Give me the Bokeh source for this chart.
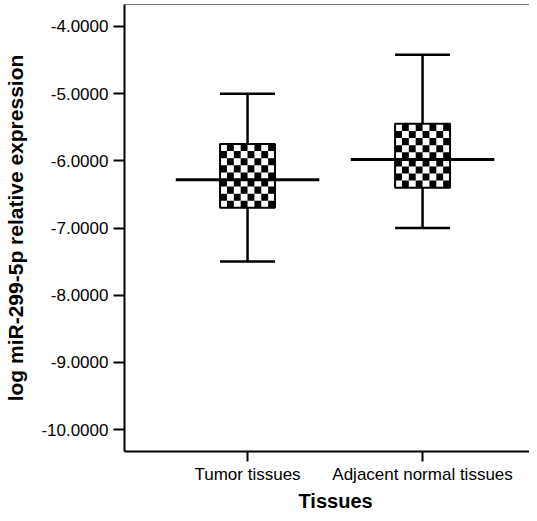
import numpy as np
from bokeh.plotting import figure
from bokeh.models import FixedTicker, Span, Range1d, Title
from bokeh.embed import file_html
from bokeh.resources import INLINE

# ---- data ----
categories = ["Tumor tissues", "Adjacent normal tissues"]
positions = [1, 2]
whisker_low = [-7.5, -7.0]
q1 = [-6.70, -6.40]
median = [-6.28, -5.98]
q3 = [-5.75, -5.45]
whisker_high = [-5.0, -4.42]
y_ticks = [-4, -5, -6, -7, -8, -9, -10]

W, H = 529, 513
Y0, Y1 = -10.327, -3.673
p = figure(width=W, height=H, output_backend="svg", toolbar_location=None,
           x_range=Range1d(0.297, 2.611), y_range=Range1d(Y0, Y1),
           min_border_left=124, min_border_right=0, min_border_top=4,
           min_border_bottom=62)
p.grid.visible = False
p.outline_line_color = None
p.background_fill_color = "white"

box_w = 0.314
med_w = 0.82
cap_w = 0.314

xs = np.array(positions, dtype=float)
# whiskers
p.segment(x0=xs, x1=xs, y0=q3, y1=whisker_high, line_color="black", line_width=2.5)
p.segment(x0=xs, x1=xs, y0=q1, y1=whisker_low, line_color="black", line_width=2.5)
p.segment(x0=xs - cap_w / 2, x1=xs + cap_w / 2, y0=whisker_high, y1=whisker_high, line_color="black", line_width=2.5)
p.segment(x0=xs - cap_w / 2, x1=xs + cap_w / 2, y0=whisker_low, y1=whisker_low, line_color="black", line_width=2.5)

# checkerboard fill inside boxes
px_per_unit_y = 67.33
ncols = 8
L, R, B, T = [], [], [], []
for c, lo, hi in zip(positions, q1, q3):
    x0 = c - box_w / 2
    cw = box_w / ncols
    cell_px = 55 / ncols
    nrows = max(1, int(round((hi - lo) * px_per_unit_y / cell_px)))
    ch = (hi - lo) / nrows
    for i in range(nrows):
        for j in range(ncols):
            if (i + j) % 2 == 1:
                L.append(x0 + j * cw); R.append(x0 + (j + 1) * cw)
                T.append(hi - i * ch); B.append(hi - (i + 1) * ch)
p.quad(left=L, right=R, bottom=B, top=T, fill_color="black", line_color=None)
p.quad(left=xs - box_w / 2, right=xs + box_w / 2, bottom=q1, top=q3,
       fill_color=None, line_color="black", line_width=2)

# medians
p.segment(x0=xs - med_w / 2, x1=xs + med_w / 2, y0=median, y1=median, line_color="black", line_width=3)

# top border line
p.add_layout(Span(location=Y1, dimension="width", line_color="black", line_width=1.2))

font = "Liberation Sans"
# y axis
p.yaxis.ticker = FixedTicker(ticks=y_ticks)
p.yaxis.major_label_overrides = {t: f"{t:.4f}" for t in y_ticks}
p.yaxis.axis_label = "log miR-299-5p relative expression"
p.yaxis.axis_label_text_font = font
p.yaxis.axis_label_text_font_style = "bold"
p.yaxis.axis_label_text_font_size = "21px"
p.yaxis.axis_label_standoff = 11
p.yaxis.major_label_text_font = font
p.yaxis.major_label_text_font_size = "17px"
p.yaxis.major_label_standoff = 5
p.yaxis.major_tick_out = 11
p.yaxis.major_tick_in = 0
p.yaxis.minor_tick_line_color = None
p.yaxis.axis_line_width = 2
p.yaxis.major_tick_line_width = 2

# x axis
p.xaxis.ticker = FixedTicker(ticks=positions)
p.xaxis.major_label_overrides = {pos: cat for pos, cat in zip(positions, categories)}
p.xaxis.major_label_text_font = font
p.xaxis.major_label_text_font_size = "17px"
p.xaxis.major_label_standoff = 3
p.xaxis.major_tick_out = 10
p.xaxis.major_tick_in = 0
p.xaxis.minor_tick_line_color = None
p.xaxis.axis_line_width = 2
p.xaxis.major_tick_line_width = 2

for ax in (p.xaxis[0], p.yaxis[0]):
    ax.axis_label_text_color = "black"
    ax.major_label_text_color = "black"
    ax.axis_line_color = "black"
    ax.major_tick_line_color = "black"

p.add_layout(Title(text="Tissues", align="left", offset=174, text_font=font,
                   text_font_style="bold", text_font_size="20px",
                   text_color="black", standoff=2), "below")

open("out.html", "w").write(file_html(p, INLINE))
